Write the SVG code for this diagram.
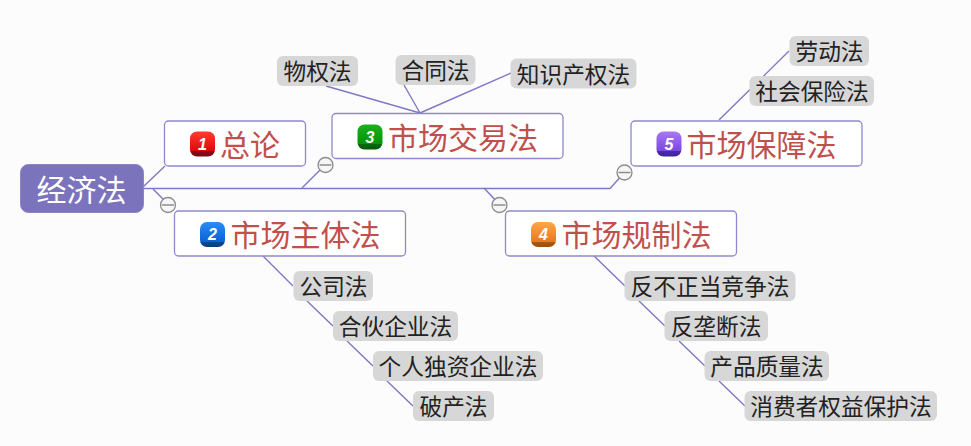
<svg xmlns="http://www.w3.org/2000/svg" width="971" height="446" viewBox="0 0 971 446">
<style>
text{font-family:"Noto Sans CJK SC","Noto Sans",sans-serif}
.c{fill:none;stroke:#7f78c6;stroke-width:1.4}
.root{fill:#7b74bd;stroke:#8a84c8}
.rt{fill:#fff;font-size:30px;text-anchor:middle}
.n{fill:#fff;stroke:#8f89cc;stroke-width:1.3}
.nt{fill:#c0504d;font-size:30px}
.l{fill:#d7d7d7}
.lt{fill:#222;font-size:22.7px;text-anchor:middle}
.d{fill:#fff;font:italic bold 16px "Liberation Sans",sans-serif;text-anchor:middle}
.ci{fill:#f6f6f6;stroke:#8c8c8c;stroke-width:1.3}
.m{stroke:#8c8c8c;stroke-width:1.5}
</style>
<defs>
<linearGradient id="g1" x1="0" y1="0" x2="0" y2="1"><stop offset="0" stop-color="#ff3b30"/><stop offset="0.78" stop-color="#dc0a0a"/><stop offset="0.8" stop-color="#8a0a14"/><stop offset="1" stop-color="#7a0814"/></linearGradient>
<linearGradient id="g2" x1="0" y1="0" x2="0" y2="1"><stop offset="0" stop-color="#2a8cf5"/><stop offset="0.78" stop-color="#0a62d8"/><stop offset="0.8" stop-color="#0a4a90"/><stop offset="1" stop-color="#083c7c"/></linearGradient>
<linearGradient id="g3" x1="0" y1="0" x2="0" y2="1"><stop offset="0" stop-color="#1cb01c"/><stop offset="0.78" stop-color="#069406"/><stop offset="0.8" stop-color="#066a0c"/><stop offset="1" stop-color="#045a08"/></linearGradient>
<linearGradient id="g4" x1="0" y1="0" x2="0" y2="1"><stop offset="0" stop-color="#ffa64a"/><stop offset="0.78" stop-color="#ea7a1c"/><stop offset="0.8" stop-color="#a85a14"/><stop offset="1" stop-color="#96500f"/></linearGradient>
<linearGradient id="g5" x1="0" y1="0" x2="0" y2="1"><stop offset="0" stop-color="#a878f5"/><stop offset="0.78" stop-color="#7a48e0"/><stop offset="0.8" stop-color="#4a28b0"/><stop offset="1" stop-color="#3f209c"/></linearGradient>
</defs>
<rect width="971" height="446" fill="#fcfcfc"/>
<g id="connectors">
<path class="c" d="M143 187L165 166"/>
<path class="c" d="M143 188.500H610L624 173"/>
<path class="c" d="M153 189L168 204"/>
<path class="c" d="M302 188L325 165"/>
<path class="c" d="M484 188L499 204"/>
<path class="c" d="M326 86L420 113M404 85L420 113M511 73L420 113"/>
<path class="c" d="M719 120L789 51"/>
<path class="c" d="M263 256L293 286M307 301L333 326M347 341L373 366M387 381L413 406"/>
<path class="c" d="M594 256L625 286M639 301L665 326M679 341L705 366M719 381L745 406"/>
</g>
<g id="root"><rect class="root" x="20.500" y="164.500" width="123" height="48" rx="8"/><text class="rt" x="81.500" y="201">经济法</text></g>
<g id="n1"><rect class="n" x="164.500" y="121" width="141" height="45" rx="4"/><rect x="190" y="131.500" width="25" height="25" rx="7" fill="url(#g1)"/><text class="d" x="202.500" y="149.500">1</text><text class="nt" x="220" y="156">总论</text></g>
<g id="n2"><rect class="n" x="174.500" y="211" width="231" height="45" rx="4"/><rect x="200" y="222" width="25" height="25" rx="7" fill="url(#g2)"/><text class="d" x="212.500" y="240">2</text><text class="nt" x="230.500" y="246">市场主体法</text></g>
<g id="n3"><rect class="n" x="332" y="113.500" width="231" height="45" rx="4"/><rect x="357.500" y="124.500" width="25" height="25" rx="7" fill="url(#g3)"/><text class="d" x="370" y="142.500">3</text><text class="nt" x="388" y="149">市场交易法</text></g>
<g id="n4"><rect class="n" x="505.500" y="211" width="231" height="45" rx="4"/><rect x="531" y="222" width="25" height="25" rx="7" fill="url(#g4)"/><text class="d" x="543.500" y="240">4</text><text class="nt" x="561.500" y="246">市场规制法</text></g>
<g id="n5"><rect class="n" x="631" y="121" width="231" height="45" rx="4"/><rect x="656.500" y="131.500" width="25" height="25" rx="7" fill="url(#g5)"/><text class="d" x="669" y="149.500">5</text><text class="nt" x="686.500" y="156">市场保障法</text></g>
<g id="l1"><rect class="l" x="277" y="56" width="81" height="30" rx="6"/><text class="lt" x="317.500" y="80">物权法</text></g>
<g id="l2"><rect class="l" x="395.500" y="55" width="80" height="30" rx="6"/><text class="lt" x="435.500" y="79">合同法</text></g>
<g id="l3"><rect class="l" x="510.500" y="58.500" width="126" height="30" rx="6"/><text class="lt" x="573.500" y="82.500">知识产权法</text></g>
<g id="l4"><rect class="l" x="789.500" y="36" width="79.500" height="30" rx="6"/><text class="lt" x="829.500" y="60">劳动法</text></g>
<g id="l5"><rect class="l" x="749.500" y="76" width="124.500" height="30" rx="6"/><text class="lt" x="812" y="100">社会保险法</text></g>
<g id="l6"><rect class="l" x="293.500" y="271" width="79.500" height="30" rx="6"/><text class="lt" x="333.500" y="295">公司法</text></g>
<g id="l7"><rect class="l" x="333" y="311" width="125" height="30" rx="6"/><text class="lt" x="395.500" y="335">合伙企业法</text></g>
<g id="l8"><rect class="l" x="373" y="351" width="170" height="30" rx="6"/><text class="lt" x="458" y="375">个人独资企业法</text></g>
<g id="l9"><rect class="l" x="413" y="391" width="81" height="30" rx="6"/><text class="lt" x="453.500" y="415">破产法</text></g>
<g id="l10"><rect class="l" x="624.500" y="271" width="171" height="30" rx="6"/><text class="lt" x="710" y="295">反不正当竞争法</text></g>
<g id="l11"><rect class="l" x="664.500" y="311" width="103.500" height="30" rx="6"/><text class="lt" x="716" y="335">反垄断法</text></g>
<g id="l12"><rect class="l" x="704.500" y="351" width="124.500" height="30" rx="6"/><text class="lt" x="767" y="375">产品质量法</text></g>
<g id="l13"><rect class="l" x="744.500" y="391" width="192.500" height="30" rx="6"/><text class="lt" x="841" y="415">消费者权益保护法</text></g>
<g id="collapse">
<circle class="ci" cx="168" cy="205" r="7.500"/><path class="m" d="M162 205H174"/>
<circle class="ci" cx="325.500" cy="165" r="7.500"/><path class="m" d="M319.500 165H331.500"/>
<circle class="ci" cx="499.500" cy="205" r="7.500"/><path class="m" d="M493.500 205H505.500"/>
<circle class="ci" cx="624.500" cy="172.500" r="7.500"/><path class="m" d="M618.500 172.500H630.500"/>
</g>
</svg>
